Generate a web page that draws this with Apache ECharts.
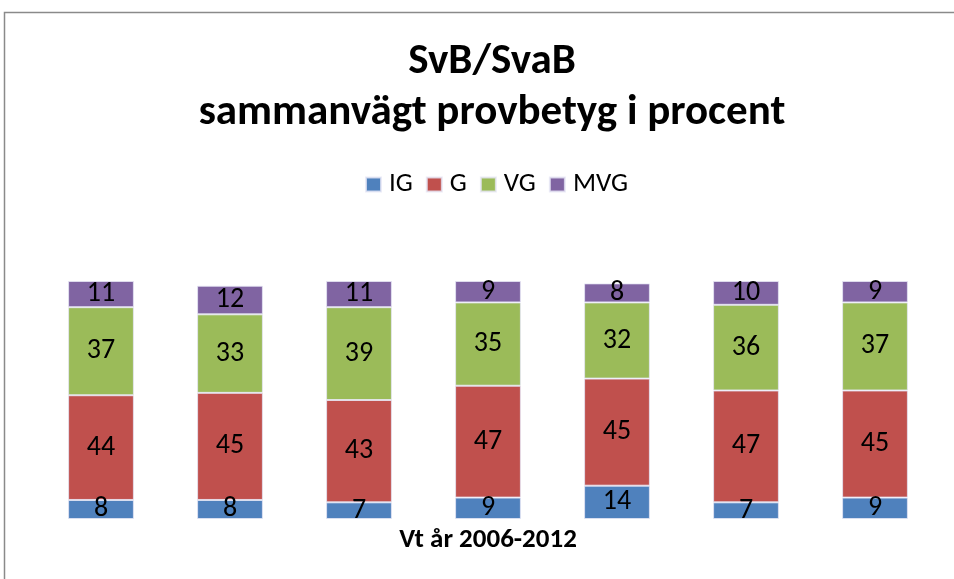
<!DOCTYPE html>
<html><head><meta charset="utf-8">
<script src="https://cdn.jsdelivr.net/npm/echarts@6/dist/echarts.min.js"></script>
<style>html,body{margin:0;padding:0;background:#fff}#c{width:954px;height:579px}</style>
</head><body><div id="c"></div>
<script>
const categories = ['2006','2007','2008','2009','2010','2011','2012'];
const seriesNames = ['IG','G','VG','MVG'];
const IG  = [8, 8, 7, 9, 14, 7, 9];
const G   = [44, 45, 43, 47, 45, 47, 45];
const VG  = [37, 33, 39, 35, 32, 36, 37];
const MVG = [11, 12, 11, 9, 8, 10, 9];
const colors = ['#4F81BD','#C0504D','#9BBB59','#8064A2'];
const FONT = 'Carlito, Calibri, "Liberation Sans", sans-serif';

const chart = echarts.init(document.getElementById('c'));
const values = [IG, G, VG, MVG];
chart.setOption({
  animation: false,
  color: colors,
  graphic: [{type:'rect', shape:{x:4.5,y:12.5,width:1200,height:1200}, style:{fill:'none', stroke:'#8a8a8a', lineWidth:1.5}, silent:true}],
  title: {
    text: 'SvB/SvaB\nsammanvägt provbetyg i procent',
    left: 487, top: 32, textAlign: 'center',
    textStyle: {fontFamily: FONT, fontWeight: 'bold', fontSize: 43, lineHeight: 51, color: '#000'}
  },
  legend: {
    top: 166, left: 360, itemWidth: 15, itemHeight: 14, itemGap: 13,
    icon: 'rect',
    textStyle: {fontFamily: FONT, fontSize: 27, color: '#000', padding: [0,0,0,3]},
    data: seriesNames
  },
  grid: {left: 36.5, right: 14.5, top: 281, bottom: 60},
  xAxis: {
    type: 'category', data: categories,
    axisLine: {show:false}, axisTick: {show:false}, axisLabel: {show:false},
    name: 'Vt år 2006-2012', nameLocation: 'middle', nameGap: 8,
    nameTextStyle: {fontFamily: FONT, fontWeight: 'bold', fontSize: 27, color: '#000', verticalAlign: 'top'}
  },
  yAxis: {type: 'value', min: 0, max: 100, show: false},
  series: values.map((v, i) => ({
    name: seriesNames[i], type: 'bar', stack: 'total', barWidth: '51%',
    data: v,
    itemStyle: {borderColor: 'rgba(230,230,245,0.8)', borderWidth: 1},
    label: {show: true, position: 'inside', fontFamily: FONT, fontSize: 28, color: '#000'}
  }))
});
</script></body></html>
